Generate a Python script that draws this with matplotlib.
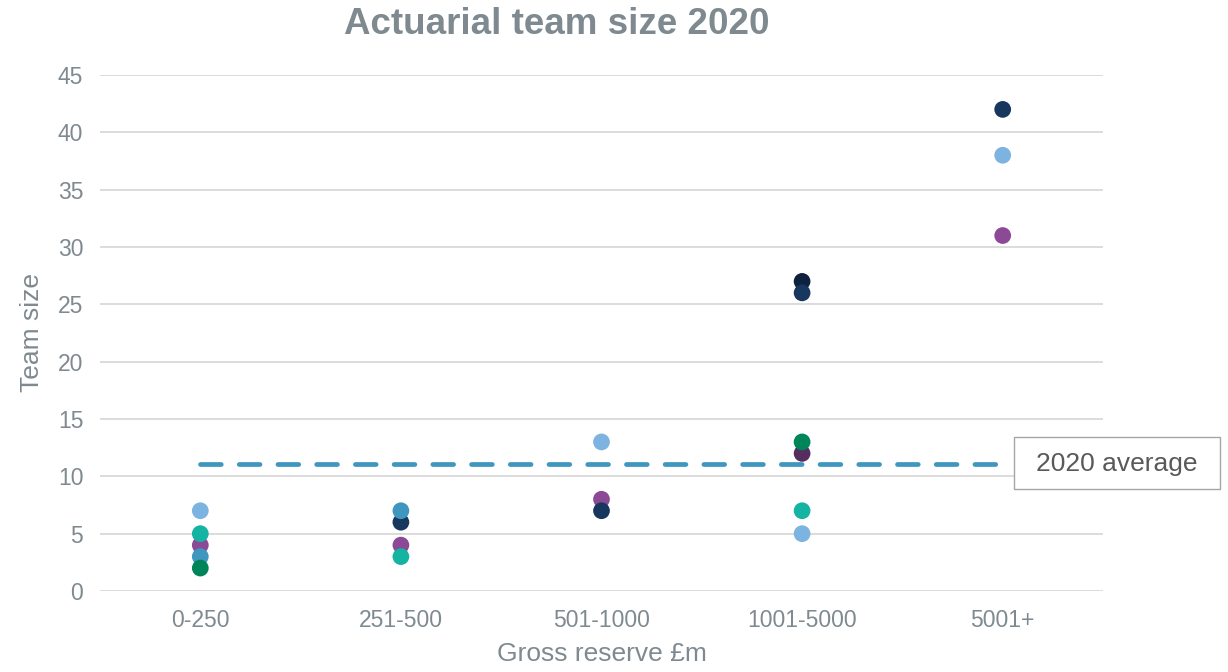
import matplotlib
matplotlib.use("Agg")
import matplotlib.pyplot as plt
from matplotlib.patches import Rectangle

plt.rcParams['font.family'] = ['Liberation Sans', 'DejaVu Sans']

categories = ["0-250", "251-500", "501-1000", "1001-5000", "5001+"]
y_ticks = [0, 5, 10, 15, 20, 25, 30, 35, 40, 45]
average_2020 = 11.1

# Team sizes per respondent group, one value per reserve band (None = no respondent)
dark_navy   = [None, None, None, 27, None]
purple      = [4, 4, 8, None, 31]
dark_purple = [None, None, None, 12, None]
navy        = [None, 6, 7, 26, 42]
light_blue  = [7, None, 13, 5, 38]
steel_blue  = [3, 7, None, None, None]
green       = [2, None, None, 13, None]
teal        = [5, 3, None, 7, None]

series = [
    (dark_navy, "#0E2240"),
    (purple, "#8C4A96"),
    (dark_purple, "#552D5E"),
    (navy, "#17375E"),
    (light_blue, "#7DB3E1"),
    (steel_blue, "#3F96BF"),
    (green, "#00855A"),
    (teal, "#14B3A2"),
]

grey_text = "#7F8A90"

W, H = 1228, 672
fig = plt.figure(figsize=(W / 100, H / 100), dpi=100)
ax = fig.add_axes([100 / W, 81 / H, 1003 / W, 516 / H])

for vals, col in series:
    xs = [i for i, v in enumerate(vals) if v is not None]
    ys = [v for v in vals if v is not None]
    ax.scatter(xs, ys, s=145, color=col, edgecolors='none', zorder=3)

ax.plot([0, len(categories) - 1], [average_2020, average_2020], color="#3F96BF",
        lw=3.4, dashes=(4.4, 3.8), dash_capstyle='round', zorder=2)

ax.set_xlim(-0.5, len(categories) - 0.5)
ax.set_ylim(0, 45)
ax.set_xticks(range(len(categories)))
ax.set_xticklabels(categories)
ax.set_yticks(y_ticks)
ax.yaxis.grid(True, color="#DCDCDC", lw=1.4)
ax.set_axisbelow(True)
for sp in ax.spines.values():
    sp.set_visible(False)
ax.tick_params(axis='both', length=0, labelsize=16.5, colors=grey_text)
ax.tick_params(axis='x', pad=13)
ax.tick_params(axis='y', pad=12)

ax.set_ylabel("Team size", fontsize=19, color=grey_text, labelpad=10)
ax.set_xlabel("Gross reserve £m", fontsize=19, color=grey_text, labelpad=7)
fig.text(557 / W, 1 - 24 / H, "Actuarial team size 2020", ha='center', va='center',
         fontsize=26.5, fontweight='bold', color=grey_text)

# Label box for the average line
fig.patches.append(Rectangle((1014 / W, 1 - 489 / H), 206 / W, 52 / H,
                             transform=fig.transFigure, fc='white',
                             ec='#A6A6A6', lw=1.0, zorder=5))
fig.text(1117 / W, 1 - 464 / H, "2020 average", ha='center', va='center',
         fontsize=19, color="#595959", zorder=6)

fig.savefig("out.png", dpi=100)
